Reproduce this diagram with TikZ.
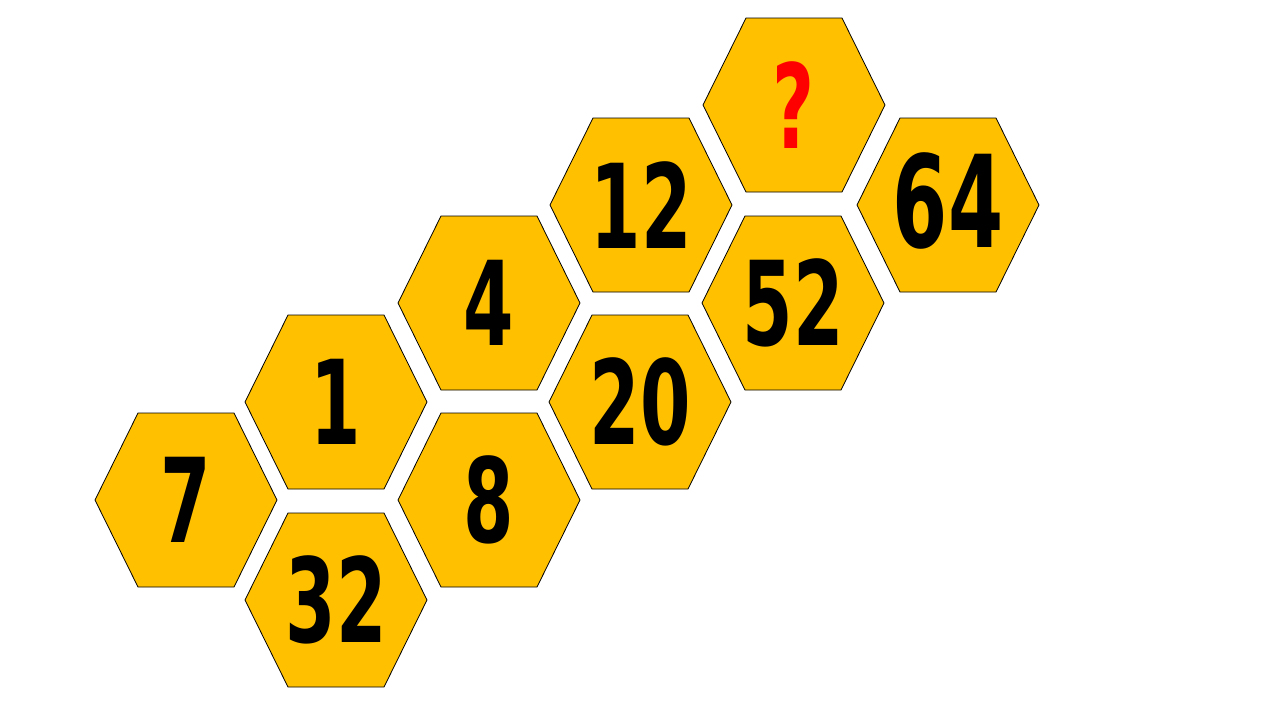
\documentclass[tikz,border=0pt]{standalone}
\usepackage{fontspec}
\newfontfamily\digitfont[FakeStretch=0.62]{DejaVu Sans Bold}
\definecolor{hexfill}{HTML}{FFC000}
\definecolor{qred}{HTML}{FF0000}
\tikzset{
  hexcell/.style={fill=hexfill, draw=black, line width=0.8pt, line join=miter},
  numlabel/.style={inner sep=0pt, font=\digitfont\fontsize{117}{117}\selectfont, text=black},
  biglabel/.style={numlabel, font=\digitfont\fontsize{128}{128}\selectfont},
  qlabel/.style={numlabel, text=qred}
}
\newcommand\hexcellat[1]{%
  \draw[hexcell] (#1) ++(-91,0) -- ++(43,-87) -- ++(96,0) -- ++(43,87) -- ++(-43,87) -- ++(-96,0) -- cycle;}
\begin{document}
\begin{tikzpicture}[x=1pt,y=-1pt]
\useasboundingbox (0,0) rectangle (1280,720);
\fill[white] (0,0) rectangle (1280,720);
% centres
\coordinate (c7) at (186,500);
\coordinate (c1) at (336,402);
\coordinate (c32) at (336,600);
\coordinate (c4) at (489,303);
\coordinate (c8) at (489,500);
\coordinate (c12) at (641,205);
\coordinate (c20) at (640,402);
\coordinate (cq) at (794,105);
\coordinate (c52) at (793,303);
\coordinate (c64) at (948,205);
\foreach \c in {c7,c1,c32,c4,c8,c12,c20,cq,c52,c64}{\hexcellat{\c}}
\node[numlabel] (n7) at (c7) {7};
\node[numlabel] (n1) at (c1) {1};
\node[numlabel] (n32) at (c32) {32};
\node[numlabel] (n4) at (c4) {4};
\node[numlabel] (n8) at (c8) {8};
\node[numlabel] (n12) at (c12) {12};
\node[numlabel] (n20) at (c20) {20};
\node[qlabel] (nq) at (cq) {?};
\node[numlabel] (n52) at (c52) {52};
\node[biglabel] (n64) at ([yshift=4pt]c64) {64};
\end{tikzpicture}
\end{document}
